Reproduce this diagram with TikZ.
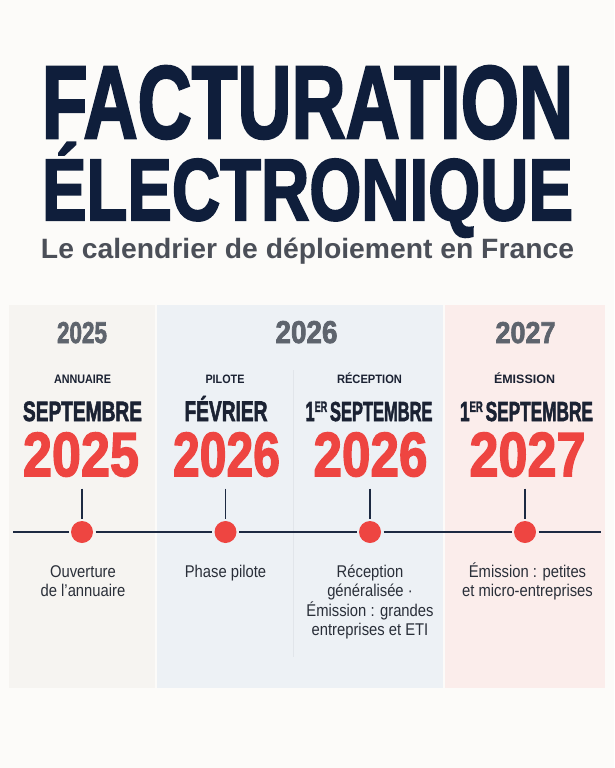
\documentclass[tikz,border=0pt]{standalone}
\usepackage{fontspec}
\usepackage{graphicx}
\setmainfont{Liberation Sans}
\newfontfamily\heavyfont{Liberation Sans}[BoldFeatures={FakeBold=2.5}]
\usetikzlibrary{positioning}

\definecolor{navy}{HTML}{0F1E3B}
\definecolor{slate}{HTML}{5E646D}
\definecolor{subgrey}{HTML}{4B4F58}
\definecolor{ink}{HTML}{1B2233}
\definecolor{coral}{HTML}{EE4541}
\definecolor{bodytxt}{HTML}{2A2F39}
\definecolor{pagebg}{HTML}{FCFBF9}
\definecolor{colA}{HTML}{F6F4F1}
\definecolor{colB}{HTML}{EDF1F5}
\definecolor{colC}{HTML}{FBEDEB}
\definecolor{divider}{HTML}{E1E5EA}
\definecolor{axis}{HTML}{1D2A42}

\newcommand{\fitbox}[3]{\resizebox{#1pt}{#2pt}{#3}}
\newcommand{\premier}{1\raisebox{0.33em}{\scalebox{0.55}{ER}}\,}
\newcommand{\descbox}[1]{\scalebox{0.87}[1]{\begin{tabular}[t]{@{}c@{}}#1\end{tabular}}}

\tikzset{>=stealth,
  fitted/.style={inner sep=0pt, anchor=base},
  headline/.style={fitted, text=navy, font=\heavyfont\bfseries},
  yearhead/.style={fitted, text=slate, font=\heavyfont\bfseries},
  tag/.style={fitted, text=ink, font=\bfseries},
  month/.style={fitted, text=ink, font=\heavyfont\bfseries},
  bigyear/.style={fitted, text=coral, font=\heavyfont\bfseries},
  dot/.style={circle, fill=coral, minimum size=22pt, inner sep=0pt, outer sep=2.5pt},
  desc/.style={inner sep=0pt, anchor=base, text=bodytxt, font=\fontsize{17}{19}\selectfont},
}

\begin{document}
\begin{tikzpicture}[x=1pt, y=-1pt]
    \fill[pagebg] (0,0) rectangle (614,768);
    \useasboundingbox (0,0) rectangle (614,768);
    % colonnes
    \fill[colA] (9,305) rectangle (155,688);
    \fill[colB] (157,305) rectangle (443,688);
    \fill[colC] (445,305) rectangle (605,688);
    \draw[divider, line width=1pt] (293,370) -- (293,657);
    % titre
    \node[headline] (t1) at (307.5,138) {\fitbox{531}{72}{FACTURATION}};
    \node[headline] (t2) at (307.5,220)
        {\raisebox{0pt}[\height][0pt]{\fitbox{531}{61}{\smash{É}LECTRONIQUE}}};
    \node[fitted, text=subgrey, font=\bfseries] (sub) at (307.5,258.5)
        {\fitbox{533}{20.5}{Le calendrier de déploiement en France}};
    % annees
    \node[yearhead] (y25) at (82,343) {\fitbox{50}{21}{2025}};
    \node[yearhead] (y26) at (306.5,343) {\fitbox{62}{22}{2026}};
    \node[yearhead] (y27) at (525.5,343) {\fitbox{60}{21}{2027}};
    % etapes
    \node[tag] (k1) at (82.5,383) {\fitbox{57}{8.5}{ANNUAIRE}};
    \node[tag] (k2) at (225,383) {\fitbox{39}{8.5}{PILOTE}};
    \node[tag] (k3) at (369.5,383) {\fitbox{65}{8.5}{R\smash{É}CEPTION}};
    \node[tag] (k4) at (524.5,383) {\fitbox{61}{8.5}{\smash{É}MISSION}};
    \node[month] (m1) at (82.5,421) {\fitbox{119}{19.5}{SEPTEMBRE}};
    \node[month] (m2) at (226,421) {\fitbox{83}{19.5}{F\smash{É}VRIER}};
    \node[month] (m3) at (369,421) {\fitbox{127}{19.5}{\premier SEPTEMBRE}};
    \node[month] (m4) at (526.5,421) {\fitbox{133}{19.5}{\premier SEPTEMBRE}};
    \node[bigyear] (b1) at (81,476) {\fitbox{116}{43.5}{2025}};
    \node[bigyear] (b2) at (226.5,476) {\fitbox{107}{43.5}{2026}};
    \node[bigyear] (b3) at (370.5,476) {\fitbox{114}{43.5}{2026}};
    \node[bigyear] (b4) at (527.5,476) {\fitbox{116}{43.5}{2027}};
    % frise
    \node[dot] (d1) at (82,532) {};
    \node[dot] (d2) at (225.5,532) {};
    \node[dot] (d3) at (370,532) {};
    \node[dot] (d4) at (525,532) {};
    \coordinate (fL) at (13,532);
    \coordinate (fR) at (601,532);
    \draw[axis, line width=2.4pt] (fL) -- (d1) -- (d2) -- (d3) -- (d4) -- (fR);
    \foreach \i in {1,...,4}{
        \coordinate[above=30pt of d\i] (tk\i);
        \draw[axis, line width=1.8pt] (tk\i) -- (d\i);
    }
    % descriptions
    \node[desc] (e1) at (83,577) {\descbox{Ouverture\\de l’annuaire}};
    \node[desc] (e2) at (225.5,577) {\descbox{Phase pilote}};
    \node[desc] (e3) at (370,577) {\descbox{Réception\\généralisée ·\\Émission : grandes\\entreprises et ETI}};
    \node[desc] (e4) at (527.5,577) {\descbox{Émission : petites\\et micro-entreprises}};
\end{tikzpicture}
\end{document}
